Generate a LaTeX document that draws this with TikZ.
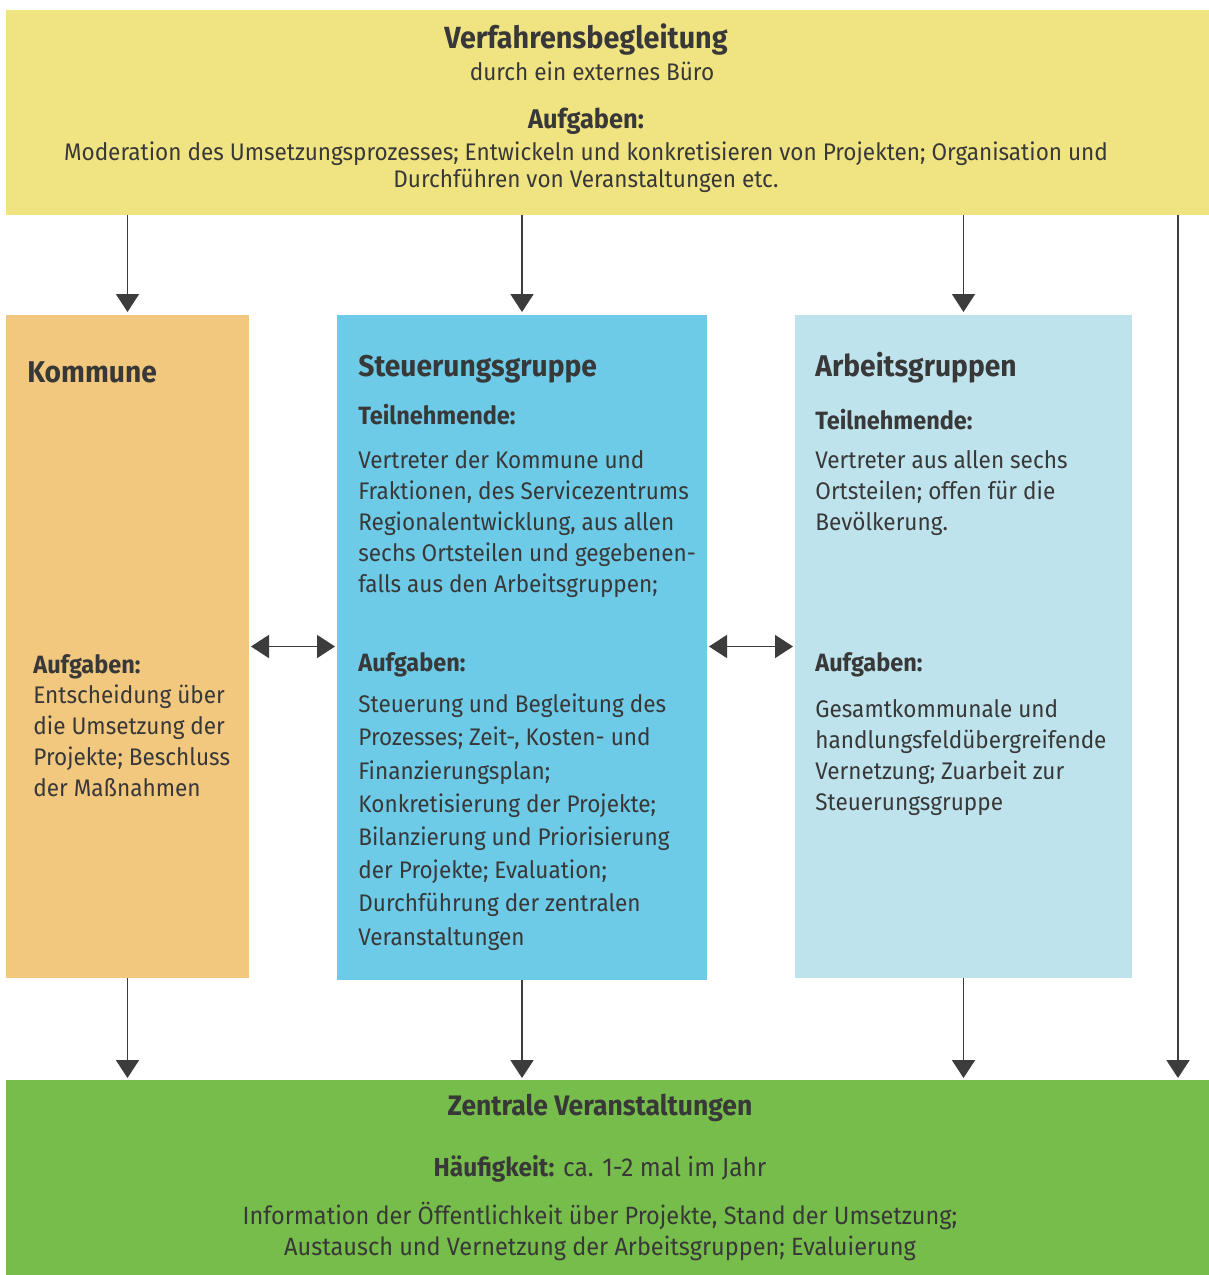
\documentclass[tikz,border=0pt]{standalone}
\usepackage{fontspec}
\setmainfont{Fira Sans}[FakeStretch=0.94]
\usetikzlibrary{arrows.meta}
\definecolor{gelb}{HTML}{F0E482}
\definecolor{orange}{HTML}{F1C87E}
\definecolor{blau}{HTML}{6DCBE8}
\definecolor{hellblau}{HTML}{BEE3EC}
\definecolor{gruen}{HTML}{77BD4B}
\definecolor{schrift}{HTML}{383838}
\definecolor{linie}{HTML}{3C3C3C}
\begin{document}
\begin{tikzpicture}[x=0.5pt, y=-0.5pt,
	box/.style={inner sep=0pt, outer sep=0pt},
	titel/.style={inner sep=0pt, text=schrift, font=\bfseries\fontsize{15}{18}\selectfont},
	kopf/.style={inner sep=0pt, text=schrift, font=\bfseries\fontsize{12.5}{15.5}\selectfont},
	fliess/.style={inner sep=0pt, text=schrift, align=left, font=\fontsize{12}{15.5}\selectfont},
	pfeil/.style={-{Triangle[width=11.5pt,length=9pt]}, line width=0.9pt, draw=linie},
	doppel/.style={{Triangle[width=11.5pt,length=9pt]}-{Triangle[width=11.5pt,length=9pt]}, line width=0.9pt, draw=linie, shorten <=1pt, shorten >=1pt}]
	\useasboundingbox (0,0) rectangle (1209,1275);
	\fill[white] (0,0) rectangle (1209,1275);

	% Kaesten
	\node[box, fill=gelb, minimum width=601.5pt, minimum height=102.5pt] (verf) at (607.5,112.5) {};
	\node[box, fill=orange, minimum width=121.5pt, minimum height=331.5pt] (komm) at (127.5,646.5) {};
	\node[box, fill=blau, minimum width=185pt, minimum height=332.5pt] (steuer) at (522,647.5) {};
	\node[box, fill=hellblau, minimum width=168.5pt, minimum height=331.5pt] (arbeit) at (963.5,646.5) {};
	\node[box, fill=gruen, minimum width=601.5pt, minimum height=97.5pt] (zentral) at (607.5,1177.5) {};
	\coordinate (rand) at (1178,0);

	% Verfahrensbegleitung
	\node[titel, anchor=base, font=\bfseries\fontsize{15.3}{18}\selectfont] (verfTitel) at (586,48) {Verfahrensbegleitung};
	\node[fliess, anchor=base] (verfSub) at (592,80) {durch ein externes Büro};
	\node[kopf, anchor=base, font=\bfseries\fontsize{13.5}{16}\selectfont] (verfAufg) at (586,128) {Aufgaben:};
	\node[fliess, align=center, anchor=base, font=\fontsize{12}{13.5}\selectfont] (verfText) at (586,187) {Moderation des Umsetzungsprozesses; Entwickeln und konkretisieren von Projekten; Organisation und\\Durchführen von Veranstaltungen etc.};

	% Kommune
	\node[titel, anchor=base west] (kommTitel) at (27,382) {Kommune};
	\node[kopf, anchor=base west] (kommAufg) at (33,673) {Aufgaben:};
	\node[fliess, anchor=base west] (kommText) at (33,796) {Entscheidung über\\die Umsetzung der\\Projekte; Beschluss\\der Maßnahmen};

	% Steuerungsgruppe
	\node[titel, anchor=base west] (steuerTitel) at (358,376) {Steuerungsgruppe};
	\node[kopf, anchor=base west] (steuerTeil) at (358,424) {Teilnehmende:};
	\node[fliess, anchor=base west] (steuerTeilText) at (358,592) {Vertreter der Kommune und\\Fraktionen, des Servicezentrums\\Regionalentwicklung, aus allen\\sechs Ortsteilen und gegebenen-\\falls aus den Arbeitsgruppen;};
	\node[kopf, anchor=base west] (steuerAufg) at (358,671) {Aufgaben:};
	\node[fliess, anchor=base west, font=\fontsize{12}{16.6}\selectfont] (steuerText) at (358,945) {Steuerung und Begleitung des\\Prozesses; Zeit-, Kosten- und\\Finanzierungsplan;\\Konkretisierung der Projekte;\\Bilanzierung und Priorisierung\\der Projekte; Evaluation;\\Durchführung der zentralen\\Veranstaltungen};

	% Arbeitsgruppen
	\node[titel, anchor=base west] (arbeitTitel) at (815,376) {Arbeitsgruppen};
	\node[kopf, anchor=base west] (arbeitTeil) at (815,429) {Teilnehmende:};
	\node[fliess, anchor=base west] (arbeitTeilText) at (815,530) {Vertreter aus allen sechs\\Ortsteilen; offen für die\\Bevölkerung.};
	\node[kopf, anchor=base west] (arbeitAufg) at (815,671) {Aufgaben:};
	\node[fliess, anchor=base west] (arbeitText) at (815,810) {Gesamtkommunale und\\handlungsfeldübergreifende\\Vernetzung; Zuarbeit zur\\Steuerungsgruppe};

	% Zentrale Veranstaltungen
	\node[titel, anchor=base, font=\bfseries\fontsize{14.1}{16}\selectfont] (zentralTitel) at (600,1115) {Zentrale Veranstaltungen};
	\node[fliess, anchor=base, font=\fontsize{13}{15.5}\selectfont] (zentralHaeuf) at (600,1176) {\textbf{Häufigkeit:} ca. 1-2 mal im Jahr};
	\node[fliess, align=center, anchor=base, font=\fontsize{12.5}{15.5}\selectfont] (zentralText) at (600,1255) {Information der Öffentlichkeit über Projekte, Stand der Umsetzung;\\Austausch und Vernetzung der Arbeitsgruppen; Evaluierung};

	% Pfeile
	\draw[pfeil, shorten >=1.5pt] (verf.south -| komm.north) -- (komm.north);
	\draw[pfeil, shorten >=1.5pt] (verf.south -| steuer.north) -- (steuer.north);
	\draw[pfeil, shorten >=1.5pt] (verf.south -| arbeit.north) -- (arbeit.north);
	\draw[pfeil, shorten >=1pt] (verf.south -| rand) -- (zentral.north -| rand);
	\draw[pfeil, shorten >=1pt] (komm.south) -- (zentral.north -| komm.south);
	\draw[pfeil, shorten >=1pt] (steuer.south) -- (zentral.north -| steuer.south);
	\draw[pfeil, shorten >=1pt] (arbeit.south) -- (zentral.north -| arbeit.south);
	\draw[doppel] (komm.east) -- (komm.east -| steuer.west);
	\draw[doppel] (steuer.east |- arbeit.west) -- (arbeit.west);
\end{tikzpicture}
\end{document}
